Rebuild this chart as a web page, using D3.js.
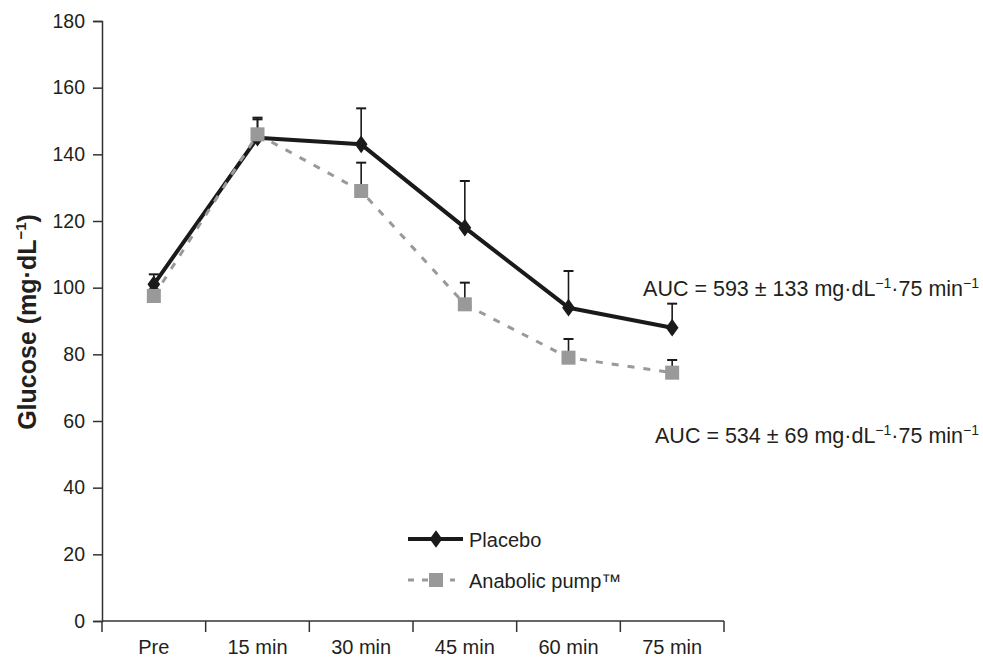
<!DOCTYPE html>
<html><head><meta charset="utf-8">
<script src="https://cdn.jsdelivr.net/npm/d3@7/dist/d3.min.js"></script>
<style>
body{margin:0;background:#fff;}
text{font-family:"Liberation Sans",Arial,sans-serif;fill:#231f20;}
</style></head>
<body>
<svg id="chart" width="983" height="657"></svg>
<script>
const categories = ["Pre","15 min","30 min","45 min","60 min","75 min"];
const placebo    = [101, 145, 143, 118, 94, 88];
const placeboErr = [3, 6, 10.8, 14, 11, 7.2];
const pump       = [97.5, 146, 129, 95, 79, 74.5];
const pumpErr    = [2, 4.5, 8.5, 6.5, 5.6, 3.8];
const yTicks     = [0,20,40,60,80,100,120,140,160,180];
const seriesNames = ["Placebo","Anabolic pump™"];

const svg = d3.select("#chart");
const x = d3.scaleBand().domain(categories).range([102, 724]);
const y = d3.scaleLinear().domain([0,180]).range([621, 21]);
const cx = c => x(c) + x.bandwidth()/2;

// Y axis
const yAxis = svg.append("g").attr("transform","translate(102,0)")
  .call(d3.axisLeft(y).tickValues(yTicks).tickSize(9).tickPadding(8));
yAxis.select(".domain").attr("stroke","#333").attr("stroke-width",1.5);
yAxis.selectAll(".tick line").attr("stroke","#333").attr("stroke-width",1.5);
yAxis.selectAll(".tick text").style("font-size","19.5px").style("font-family","Liberation Sans, Arial, sans-serif").attr("fill","#231f20");

// X axis
const xg = svg.append("g");
xg.append("line").attr("x1",x.range()[0]).attr("x2",x.range()[1]).attr("y1",y(0)).attr("y2",y(0))
  .attr("stroke","#333").attr("stroke-width",1.5);
const bounds = categories.map(c => x(c)).concat([x(categories[categories.length-1]) + x.bandwidth()]);
xg.selectAll("line.bt").data(bounds).enter().append("line").attr("class","bt")
  .attr("x1",d=>d).attr("x2",d=>d).attr("y1",y(0)).attr("y2",y(0)+11)
  .attr("stroke","#333").attr("stroke-width",1.5);
xg.selectAll("text").data(categories).enter().append("text")
  .attr("x",d=>cx(d)).attr("y",y(0)+33).attr("text-anchor","middle")
  .style("font-size","20px").text(d=>d);

// Y title
const yt = svg.append("text").attr("transform","translate(36,322) rotate(-90)")
  .attr("text-anchor","middle").style("font-size","25px").style("font-weight","bold");
yt.append("tspan").text("Glucose (mg·dL");
yt.append("tspan").attr("dy",-10).style("font-size","15px").text("−1");
yt.append("tspan").attr("dy",10).text(")");

const lineGen = d3.line().x((d,i)=>cx(categories[i])).y(d=>y(d));

// lines
svg.append("path").datum(placebo).attr("d",lineGen).attr("fill","none")
  .attr("stroke","#1a1a1a").attr("stroke-width",4).attr("stroke-linejoin","round");
svg.append("path").datum(pump).attr("d",lineGen).attr("fill","none")
  .attr("stroke","#999").attr("stroke-width",3).attr("stroke-dasharray","7,9");

// error bars
function errBars(vals, errs, color){
  const g = svg.append("g");
  vals.forEach((v,i)=>{
    const xx = cx(categories[i]);
    g.append("line").attr("x1",xx).attr("x2",xx).attr("y1",y(v)).attr("y2",y(v+errs[i]))
      .attr("stroke",color).attr("stroke-width",1.6);
    g.append("line").attr("x1",xx-5).attr("x2",xx+5).attr("y1",y(v+errs[i])).attr("y2",y(v+errs[i]))
      .attr("stroke",color).attr("stroke-width",2);
  });
}
errBars(placebo, placeboErr, "#1a1a1a");
errBars(pump, pumpErr, "#1a1a1a");

// markers
const diamond = d3.symbol().type(d3.symbolDiamond).size(90);
svg.append("g").selectAll("path").data(placebo).enter().append("path")
  .attr("d",diamond()).attr("transform",(d,i)=>`translate(${cx(categories[i])},${y(d)}) scale(1.25,1)`)
  .attr("fill","#1a1a1a");
svg.append("g").selectAll("rect").data(pump).enter().append("rect")
  .attr("x",(d,i)=>cx(categories[i])-7).attr("y",d=>y(d)-7).attr("width",14).attr("height",14)
  .attr("fill","#999");

// AUC annotations
function auc(xr, yb, txt){
  const t = svg.append("text").attr("x",xr).attr("y",yb).attr("text-anchor","end").style("font-size","21.5px");
  t.append("tspan").text(txt);
  t.append("tspan").attr("dy",-8).style("font-size","14px").text("−1");
  t.append("tspan").attr("dy",8).text("·75 min");
  t.append("tspan").attr("dy",-8).style("font-size","14px").text("−1");
}
auc(979, 296, "AUC = 593 ± 133 mg·dL");
auc(979, 443, "AUC = 534 ± 69 mg·dL");

// legend
const lg = svg.append("g");
lg.append("line").attr("x1",408).attr("x2",463).attr("y1",539).attr("y2",539)
  .attr("stroke","#1a1a1a").attr("stroke-width",4);
lg.append("path").attr("d",diamond()).attr("transform","translate(436,539) scale(1.25,1)").attr("fill","#1a1a1a");
lg.append("line").attr("x1",408).attr("x2",455).attr("y1",580).attr("y2",580)
  .attr("stroke","#999").attr("stroke-width",3).attr("stroke-dasharray","6,8");
lg.append("rect").attr("x",429).attr("y",573).attr("width",14).attr("height",14).attr("fill","#999");
lg.selectAll("text").data(seriesNames).enter().append("text")
  .attr("x",469).attr("y",(d,i)=>547+i*41).style("font-size","20px").text(d=>d);
</script>
</body></html>
